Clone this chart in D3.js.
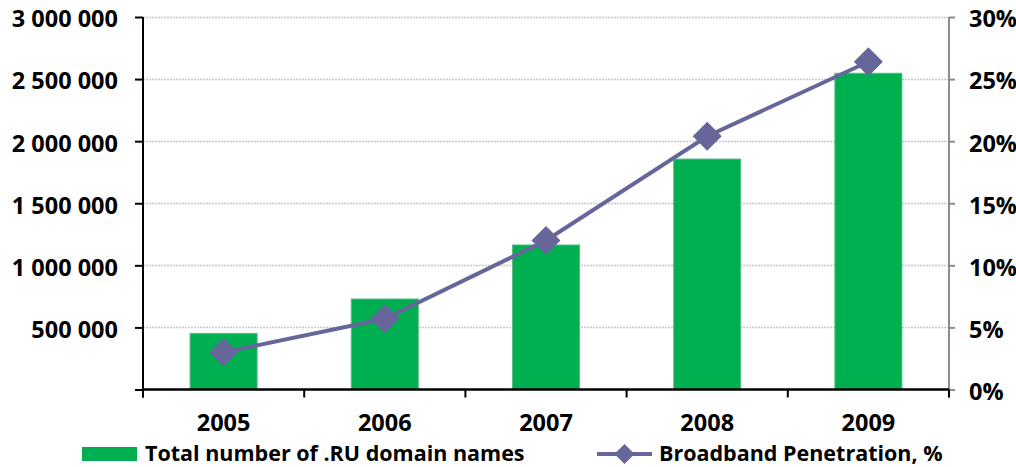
<!DOCTYPE html>
<html><head><meta charset="utf-8">
<script src="https://cdn.jsdelivr.net/npm/d3@7"></script>
<style>body{margin:0;background:#fff}text{font-family:"Open Sans","Liberation Sans",sans-serif;font-weight:bold;fill:#000}</style>
</head><body><svg id="c" width="1016" height="467"></svg>
<script>
const years = ["2005","2006","2007","2008","2009"];
const domains = [452000, 729000, 1164000, 1856000, 2547000];
const broadband = [3.0, 5.7, 12.0, 20.4, 26.4];
const leftTicks = [0, 500000, 1000000, 1500000, 2000000, 2500000, 3000000];
const rightTicks = [0, 5, 10, 15, 20, 25, 30];
const seriesNames = ["Total number of .RU domain names", "Broadband Penetration, %"];

const svg = d3.select("#c");
const L = 143, R = 949, T = 17, B = 389.5;
const x = d3.scaleBand().domain(years).range([L, R]).paddingInner(0.584).paddingOuter(0.292);
const y = d3.scaleLinear().domain([0, 3000000]).range([B, T]);
const y2 = d3.scaleLinear().domain([0, 30]).range([B, T]);
const fmt = d => d3.format(",")(d).replace(/,/g, " ");
const FS = "23.5px", LFS = "21.5px";

// gridlines
svg.append("g").selectAll("line").data(leftTicks.slice(1)).join("line")
  .attr("x1", L).attr("x2", R).attr("y1", d => Math.round(y(d)) + 0.5).attr("y2", d => Math.round(y(d)) + 0.5)
  .attr("stroke", "#c8c8c8").attr("stroke-width", 1.3).attr("stroke-dasharray", "2,1");

// bars
svg.append("g").selectAll("rect").data(years).join("rect")
  .attr("x", d => x(d)).attr("width", x.bandwidth())
  .attr("y", (d, i) => y(domains[i])).attr("height", (d, i) => B - y(domains[i]))
  .attr("fill", "#00B050").attr("stroke", "#5fb98a").attr("stroke-width", 1);

// left axis
const gl = svg.append("g").attr("transform", `translate(${L},0)`)
  .call(d3.axisLeft(y).tickValues(leftTicks).tickFormat(d => d === 0 ? "" : fmt(d)).tickSize(8).tickPadding(17));
gl.select(".domain").attr("stroke", "#000").attr("stroke-width", 2).attr("d", `M0,${T}V${B+8}`);
gl.selectAll(".tick line").attr("stroke", "#000").attr("stroke-width", 2);
gl.selectAll("text").style("font-size", FS).attr("fill", "#000").attr("dy", "0.42em");

// right axis
const gr = svg.append("g").attr("transform", `translate(${R},0)`)
  .call(d3.axisRight(y2).tickValues(rightTicks).tickFormat(d => d + "%").tickSize(6).tickPadding(14));
gr.select(".domain").attr("stroke", "#8c8c8c").attr("stroke-width", 2).attr("d", `M0,${T}V${B+8}`);
gr.selectAll(".tick line").attr("stroke", "#8c8c8c").attr("stroke-width", 2);
gr.selectAll("text").style("font-size", FS).attr("fill", "#000").attr("dy", "0.42em");

// bottom axis
const gb = svg.append("g").attr("transform", `translate(0,${B})`)
  .call(d3.axisBottom(x).tickSize(0).tickPadding(25));
gb.select(".domain").attr("stroke", "#000").attr("stroke-width", 2.5).attr("d", `M${L},0H${R}`);
gb.selectAll("text").style("font-size", FS);
const step = x.step();
svg.append("g").selectAll("line").data(d3.range(years.length + 1)).join("line")
  .attr("x1", i => L + i * step).attr("x2", i => L + i * step)
  .attr("y1", B).attr("y2", B + 8).attr("stroke", "#000").attr("stroke-width", 2);

// line series
const cx = d => x(d) + x.bandwidth() / 2;
svg.append("path").datum(years)
  .attr("d", d3.line().x(cx).y((d, i) => y2(broadband[i])))
  .attr("fill", "none").attr("stroke", "#66669A").attr("stroke-width", 4);
svg.append("g").selectAll("path").data(years).join("path")
  .attr("transform", (d, i) => `translate(${cx(d)},${y2(broadband[i])}) rotate(45)`)
  .attr("d", d3.symbol().type(d3.symbolSquare).size(420)).attr("fill", "#66669A");

// legend
const lg = svg.append("g");
lg.append("rect").attr("x", 82).attr("y", 447).attr("width", 55).attr("height", 14).attr("fill", "#00B050");
lg.append("text").attr("x", 145).attr("y", 461).style("font-size", LFS).text(seriesNames[0]);
lg.append("line").attr("x1", 597).attr("x2", 652).attr("y1", 454).attr("y2", 454).attr("stroke", "#66669A").attr("stroke-width", 4);
lg.append("path").attr("transform", "translate(624.5,454) rotate(45)").attr("d", d3.symbol().type(d3.symbolSquare).size(200)).attr("fill", "#66669A");
lg.append("text").attr("x", 659).attr("y", 461).style("font-size", LFS).text(seriesNames[1]);
</script></body></html>
